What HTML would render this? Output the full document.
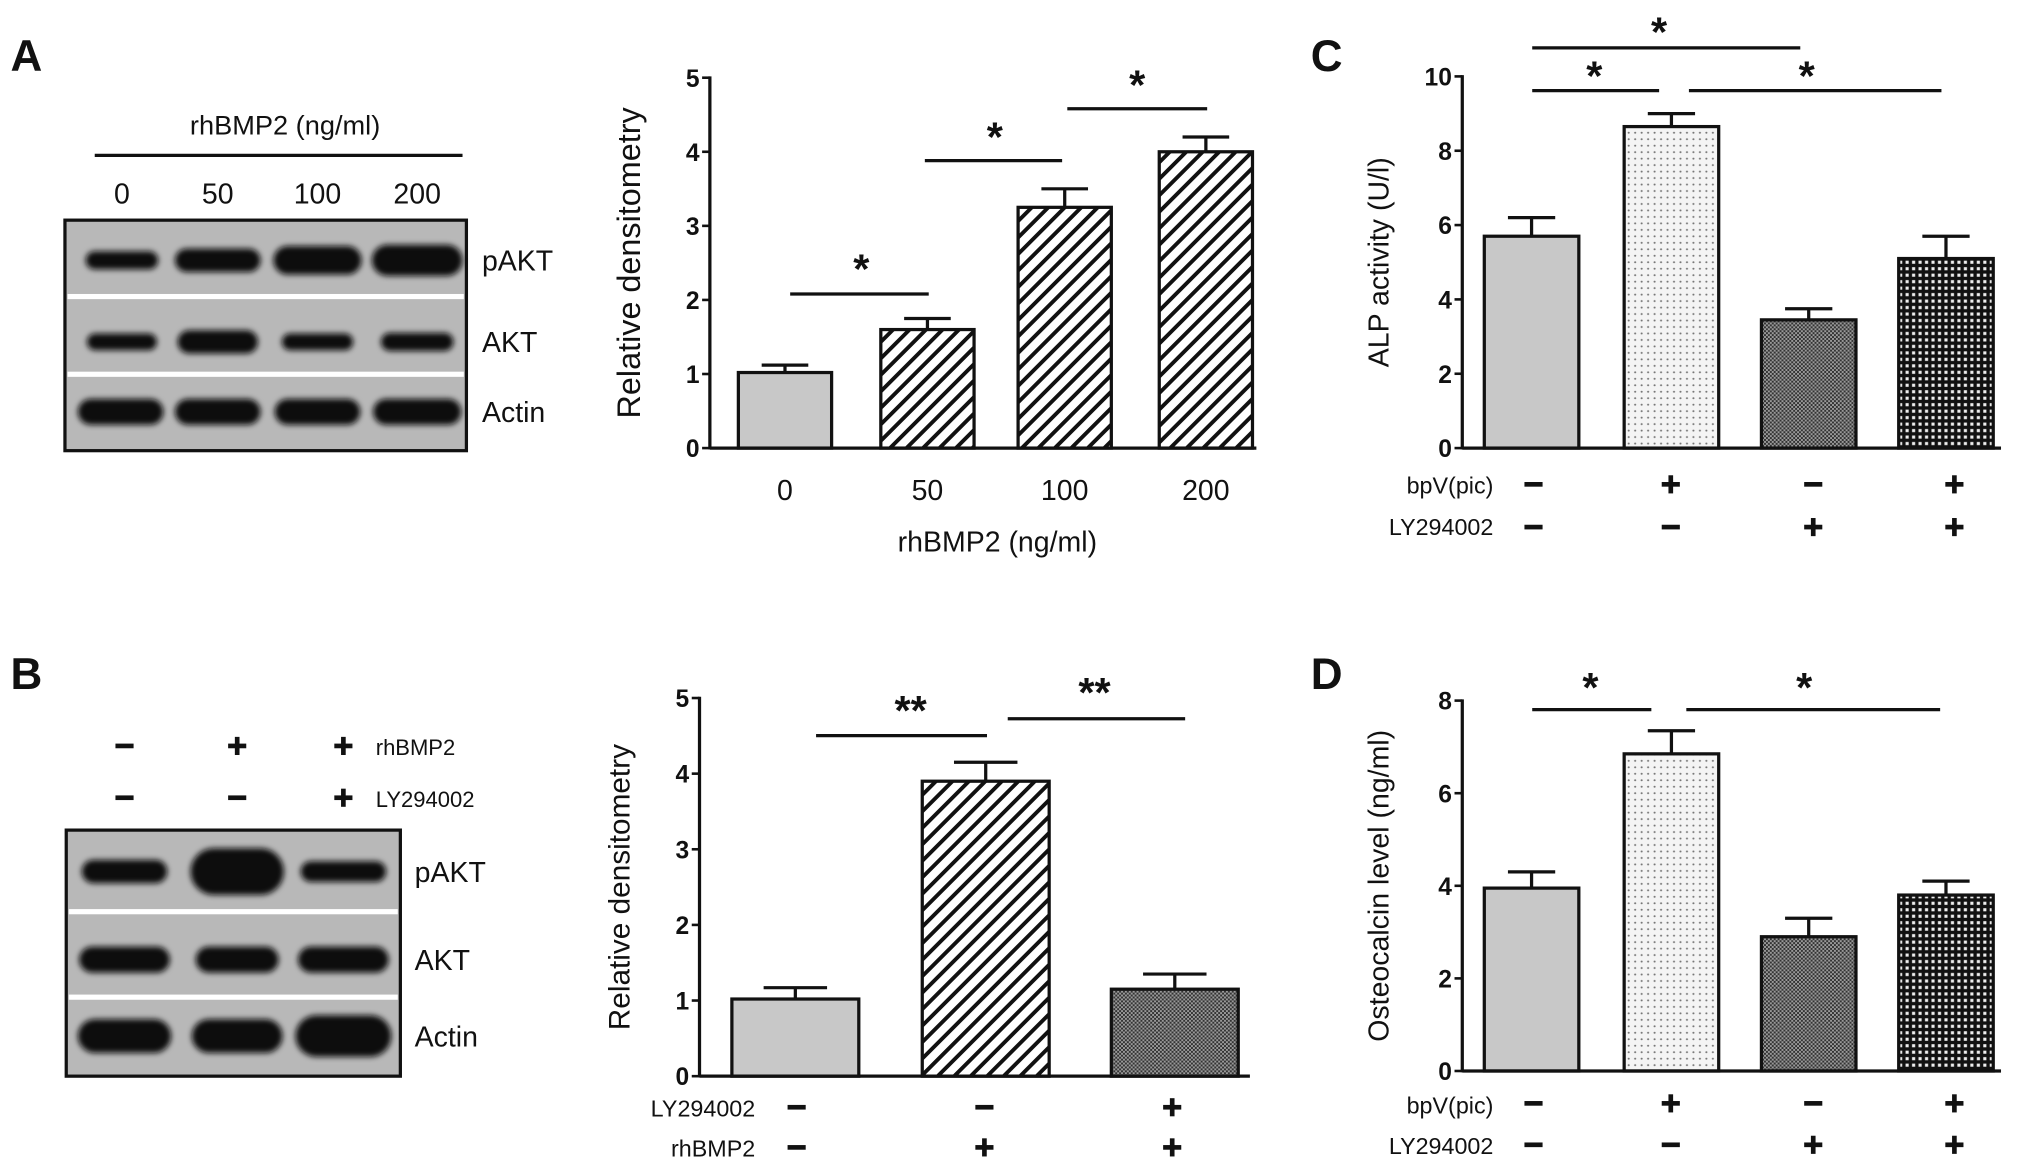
<!DOCTYPE html>
<html><head><meta charset="utf-8"><style>
html,body{margin:0;padding:0;background:#fff;}
svg{display:block;font-family:"Liberation Sans",Arial,sans-serif;}
</style></head><body>
<svg id="fig" width="2031" height="1172" viewBox="0 0 1568 905" xmlns="http://www.w3.org/2000/svg">
<defs>
<pattern id="hatch" patternUnits="userSpaceOnUse" width="9" height="9" patternTransform="rotate(45)"><rect width="9" height="9" fill="#fff"/><rect x="0" y="0" width="3" height="9" fill="#111"/></pattern>
<pattern id="dots" patternUnits="userSpaceOnUse" width="5" height="5"><rect width="5" height="5" fill="#f4f4f4"/><circle cx="2.5" cy="2.5" r="0.8" fill="#777"/></pattern>
<pattern id="mesh" patternUnits="userSpaceOnUse" width="3" height="3"><rect width="3" height="3" fill="#999"/><rect width="1.5" height="1.5" fill="#333"/><rect x="1.5" y="1.5" width="1.5" height="1.5" fill="#333"/></pattern>
<pattern id="grid" patternUnits="userSpaceOnUse" width="5" height="5"><rect width="5" height="5" fill="#111"/><rect x="1.3" y="1.3" width="2.4" height="2.4" fill="#eee"/></pattern>
<filter id="blur" x="-20%" y="-50%" width="140%" height="200%"><feGaussianBlur stdDeviation="2.2"/></filter>
</defs>
<g id="root"></g>
</svg>
<script>
// Panel A chart data
const aCats = ["0","50","100","200"];
const aVals = [1.02, 1.6, 3.25, 4.0];
const aErr = [0.1, 0.15, 0.25, 0.2];
const aTicks = [0,1,2,3,4,5];
// Panel B chart data
const bCats = ["g1","g2","g3"];
const bVals = [1.02, 3.9, 1.15];
const bErr = [0.15, 0.25, 0.2];
const bTicks = [0,1,2,3,4,5];
// Panel C chart data
const cCats = ["ctrl","bpv","ly","both"];
const cVals = [5.7, 8.65, 3.45, 5.1];
const cErr = [0.5, 0.35, 0.3, 0.6];
const cTicks = [0,2,4,6,8,10];
// Panel D chart data
const dCats = ["ctrl","bpv","ly","both"];
const dVals = [3.95, 6.85, 2.9, 3.8];
const dErr = [0.35, 0.5, 0.4, 0.3];
const dTicks = [0,2,4,6,8];

const NS = "http://www.w3.org/2000/svg";
const root = document.getElementById('root');
function mk(tag, attrs, parent, text){
  const e = document.createElementNS(NS, tag);
  for (const k in attrs) e.setAttribute(k, attrs[k]);
  if (text !== undefined) e.textContent = text;
  (parent || root).appendChild(e);
  return e;
}

function chart(cfg){
  const g = mk('g', {});
  
  
  const y = v => cfg.y0 - (v - 0) * (cfg.y0 - cfg.yTop) / cfg.max;
  cfg.vals.forEach((v, i) => {
    const x0 = cfg.barX[i];
    const w = cfg.barW;
    const cx = x0 + w/2;
    const eb = mk('line', {x1:cx, x2:cx, y1:y(v), y2:y(v + cfg.err[i]), stroke:'#111', 'stroke-width':2.5}, g);
    
    
    const cap = mk('line', {x1:cx - w*0.25, x2:cx + w*0.25, y1:y(v + cfg.err[i]), y2:y(v + cfg.err[i]), stroke:'#111', 'stroke-width':2.5}, g);
    
    
    const r = mk('rect', {x:x0, y:y(v), width:w, height:y(0) - y(v), fill:cfg.fills[i], stroke:'#111', 'stroke-width':2.5}, g);
    
    
  });
  const ya = mk('line', {x1:cfg.axX, x2:cfg.axX, y1:y(cfg.max) - 1, y2:y(0) + 1, stroke:'#111', 'stroke-width':2.5}, g);
  
  
  const xa = mk('line', {x1:cfg.axX, x2:cfg.axEnd, y1:y(0), y2:y(0), stroke:'#111', 'stroke-width':2.5}, g);
  
  
  cfg.ticks.forEach(t => {
    mk('line', {x1:cfg.axX - 6, x2:cfg.axX, y1:y(t), y2:y(t), stroke:'#111', 'stroke-width':2}, g);
    const tl = mk('text', {x:cfg.axX - 8, y:y(t) + 7, 'text-anchor':'end', 'font-size':19, 'font-weight':'bold', fill:'#111'}, g, String(t));
    
    
  });
  const yt = mk('text', {x:0, y:0, transform:`translate(${cfg.yLabelX},${(cfg.y0 + cfg.yTop)/2}) rotate(-90)`, 'text-anchor':'middle', 'font-size':cfg.yLabelSize || 23, fill:'#111'}, g, cfg.yLabel);
  
  
  return {g, y};
}

function sig(x1, x2, yy, sx, sy, s){
  mk('line', {x1, x2, y1:yy, y2:yy, stroke:'#111', 'stroke-width':2.5});
  const t = mk('text', {x:sx, y:sy + 4, 'text-anchor':'middle', 'font-size':32, 'font-weight':'bold', fill:'#111'}, root, s);
  
  
}
function txt(x, y, s, size, anchor, weight, name){
  const t = mk('text', {x, y, 'text-anchor':anchor || 'start', 'font-size':size, 'font-weight':weight || 'normal', fill:'#111'}, root, s);
  
  
  return t;
}
function sym(x, y, plus){
  mk('rect', {x:x - 7, y:y - 1.8, width:14, height:3.6, fill:'#111'});
  if (plus) mk('rect', {x:x - 1.8, y:y - 7, width:3.6, height:14, fill:'#111'});
}
function blot(x, y, w, h, seps, rows, labelX){
  const b = mk('rect', {x, y, width:w, height:h, fill:'#b8b8b8', stroke:'#111', 'stroke-width':2.5});
  
  
  seps.forEach(sy => mk('rect', {x:x + 2, y:sy - 2, width:w - 4, height:4, fill:'#fff'}));
  rows.forEach(r => {
    r.bands.forEach(bd => mk('rect', {x:bd[0] - bd[1]/2, y:r.y - bd[2]/2, width:bd[1], height:bd[2], rx:bd[2]/2, fill:'#111', filter:'url(#blur)'}));
    txt(labelX, r.y + 8, r.label, 22, 'start', 'normal', 'blot-label-' + r.label.toLowerCase());
  });
}

txt(8, 55, 'A', 34, 'start', 'bold', 'panel-label-a');
txt(8, 532, 'B', 34, 'start', 'bold', 'panel-label-b');
txt(1012, 55, 'C', 34, 'start', 'bold', 'panel-label-c');
txt(1012, 532, 'D', 34, 'start', 'bold', 'panel-label-d');

txt(220, 104, 'rhBMP2 (ng/ml)', 21, 'middle', 'normal', 'blot-header');
mk('line', {x1:73, x2:357, y1:120, y2:120, stroke:'#111', 'stroke-width':2.5});
[[94,'0'],[168,'50'],[245,'100'],[322,'200']].forEach(p => txt(p[0], 157, p[1], 22, 'middle', 'normal', 'lane-label'));
blot(50, 170, 310, 178, [229, 289], [
  {y:201, label:'pAKT', bands:[[94,56,14],[168,66,18],[245,68,22],[322,70,24]]},
  {y:264, label:'AKT', bands:[[94,54,13],[168,62,18],[245,55,13],[322,56,14]]},
  {y:318, label:'Actin', bands:[[93,66,20],[168,66,20],[245,66,20],[322,68,20]]}
], 372);

const A = chart({name:'chart-a', cats:aCats, vals:aVals, err:aErr, ticks:aTicks, max:5, y0:346, yTop:60,
  axX:548, axEnd:970, barX:[570,680,786,895], barW:72,
  fills:['#c8c8c8','url(#hatch)','url(#hatch)','url(#hatch)'], yLabel:'Relative densitometry', yLabelX:494, yLabelSize:25});
aCats.forEach((c, i) => txt([570,680,786,895][i] + 36, 386, c, 22, 'middle', 'normal', 'x-tick-label'));
txt(770, 426, 'rhBMP2 (ng/ml)', 22, 'middle', 'normal', 'x-axis-title');
sig(610, 717, 227, 665, 215, '*');
sig(714, 820, 124, 768, 113, '*');
sig(824, 932, 84, 878, 73, '*');

[[96,0],[183,1],[265,1]].forEach(p => sym(p[0], 576, p[1]));
[[96,0],[183,0],[265,1]].forEach(p => sym(p[0], 616, p[1]));
txt(290, 583, 'rhBMP2', 17, 'start', 'normal', 'blot-header-rhbmp2');
txt(290, 623, 'LY294002', 17, 'start', 'normal', 'blot-header-ly294002');
blot(51, 641, 258, 190, [704, 770], [
  {y:673, label:'pAKT', bands:[[96,66,18],[183,72,36],[265,66,16]]},
  {y:741, label:'AKT', bands:[[96,70,20],[183,64,20],[265,70,20]]},
  {y:800, label:'Actin', bands:[[96,72,26],[183,70,26],[265,74,32]]}
], 320);

const bBarX = [565, 712, 858];
const B = chart({name:'chart-b', cats:bCats, vals:bVals, err:bErr, ticks:bTicks, max:5, y0:831, yTop:539,
  axX:540, axEnd:965, barX:bBarX, barW:98,
  fills:['#c8c8c8','url(#hatch)','url(#mesh)'], yLabel:'Relative densitometry', yLabelX:486, yLabelSize:23});
txt(583, 862, 'LY294002', 18, 'end', 'normal', 'row-label-ly294002');
txt(583, 893, 'rhBMP2', 18, 'end', 'normal', 'row-label-rhbmp2');
[[615,0,0],[760,0,1],[905,1,1]].forEach(p => { sym(p[0], 855, p[1]); sym(p[0], 886, p[2]); });
sig(630, 762, 568, 703, 556, '**');
sig(778, 915, 555, 845, 542, '**');

const cdBarX = [1146, 1254, 1360, 1466];
chart({name:'chart-c', cats:cCats, vals:cVals, err:cErr, ticks:cTicks, max:10, y0:346, yTop:59,
  axX:1129, axEnd:1545, barX:cdBarX, barW:73,
  fills:['#c8c8c8','url(#dots)','url(#mesh)','url(#grid)'], yLabel:'ALP activity (U/l)', yLabelX:1072, yLabelSize:22});
txt(1153, 381, 'bpV(pic)', 18, 'end', 'normal', 'row-label-bpv');
txt(1153, 413, 'LY294002', 18, 'end', 'normal', 'row-label-ly294002');
[[1184,0,0],[1290,1,0],[1400,0,1],[1509,1,1]].forEach(p => { sym(p[0], 374, p[1]); sym(p[0], 407, p[2]); });
sig(1183, 1390, 37, 1281, 32, '*');
sig(1183, 1281, 70, 1231, 66, '*');
sig(1304, 1499, 70, 1395, 66, '*');

chart({name:'chart-d', cats:dCats, vals:dVals, err:dErr, ticks:dTicks, max:8, y0:827, yTop:541,
  axX:1129, axEnd:1545, barX:cdBarX, barW:73,
  fills:['#c8c8c8','url(#dots)','url(#mesh)','url(#grid)'], yLabel:'Osteocalcin  level (ng/ml)', yLabelX:1072, yLabelSize:22});
txt(1153, 860, 'bpV(pic)', 18, 'end', 'normal', 'row-label-bpv');
txt(1153, 891, 'LY294002', 18, 'end', 'normal', 'row-label-ly294002');
[[1184,0,0],[1290,1,0],[1400,0,1],[1509,1,1]].forEach(p => { sym(p[0], 852, p[1]); sym(p[0], 884, p[2]); });
sig(1183, 1275, 548, 1228, 538, '*');
sig(1302, 1498, 548, 1393, 538, '*');
</script>
</body></html>
